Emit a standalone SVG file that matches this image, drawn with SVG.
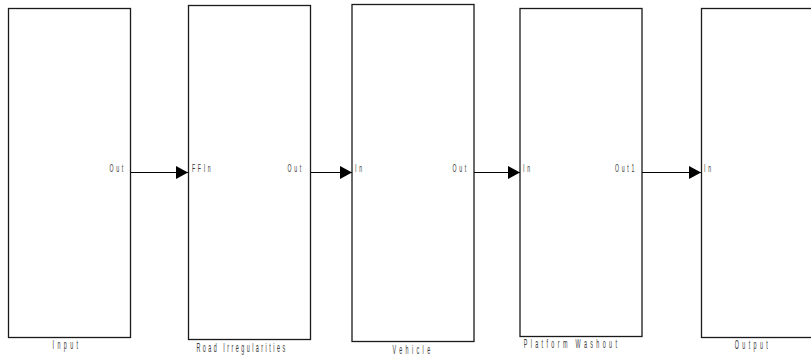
<svg xmlns="http://www.w3.org/2000/svg" width="811" height="356" viewBox="0 0 811 356">
  <defs>
    <marker id="arrow" markerWidth="12" markerHeight="13" refX="12" refY="6.5" orient="auto" markerUnits="userSpaceOnUse">
      <path d="M0,0 L12,6.5 L0,13 Z" fill="#000"/>
    </marker>
  </defs>
  <style>
    .block { fill: #fff; stroke: #1a1a1a; stroke-width: 1.3; }
    .port { font-family: "Liberation Sans", Arial, sans-serif; font-size: 11.5px; fill: #3a3a3a; letter-spacing: 6px; }
    .name { font-family: "Liberation Sans", Arial, sans-serif; font-size: 12px; fill: #3a3a3a; letter-spacing: 7.5px; text-anchor: middle; }
    .wire { stroke: #000; stroke-width: 1; fill: none; marker-end: url(#arrow); }
  </style>
  <rect width="811" height="356" fill="#fff"/>

  <g id="input">
    <rect class="block" x="8.5" y="8.5" width="122" height="329"/>
    <text class="port" text-anchor="end" transform="translate(126 172) scale(0.45 1)">Out</text>
    <text class="name" transform="translate(67 349) scale(0.45 1)">Input</text>
  </g>

  <g id="road-irregularities">
    <rect class="block" x="188.5" y="5.5" width="122" height="334"/>
    <text class="port" transform="translate(192 172) scale(0.45 1)">FFIn</text>
    <text class="port" text-anchor="end" transform="translate(304 172) scale(0.45 1)">Out</text>
    <text class="name" style="letter-spacing:5.5px" transform="translate(242 352) scale(0.45 1)">Road Irregularities</text>
  </g>

  <g id="vehicle">
    <rect class="block" x="352" y="4.5" width="122" height="337"/>
    <text class="port" transform="translate(355 172) scale(0.45 1)">In</text>
    <text class="port" text-anchor="end" transform="translate(469 172) scale(0.45 1)">Out</text>
    <text class="name" transform="translate(413 354) scale(0.45 1)">Vehicle</text>
  </g>

  <g id="platform-washout">
    <rect class="block" x="520" y="8.5" width="122" height="328"/>
    <text class="port" transform="translate(523 172) scale(0.45 1)">In</text>
    <text class="port" text-anchor="end" transform="translate(637 172) scale(0.45 1)">Out1</text>
    <text class="name" transform="translate(572 348) scale(0.45 1)">Platform Washout</text>
  </g>

  <g id="output">
    <rect class="block" x="701.5" y="8.5" width="118" height="329"/>
    <text class="port" transform="translate(704 172) scale(0.45 1)">In</text>
    <text class="name" transform="translate(753 349) scale(0.45 1)">Output</text>
  </g>

  <g id="connectors">
    <line class="wire" x1="131" y1="172.5" x2="188" y2="172.5"/>
    <line class="wire" x1="311" y1="172.5" x2="352" y2="172.5"/>
    <line class="wire" x1="474" y1="172.5" x2="520" y2="172.5"/>
    <line class="wire" x1="642" y1="172.5" x2="701" y2="172.5"/>
  </g>
</svg>
